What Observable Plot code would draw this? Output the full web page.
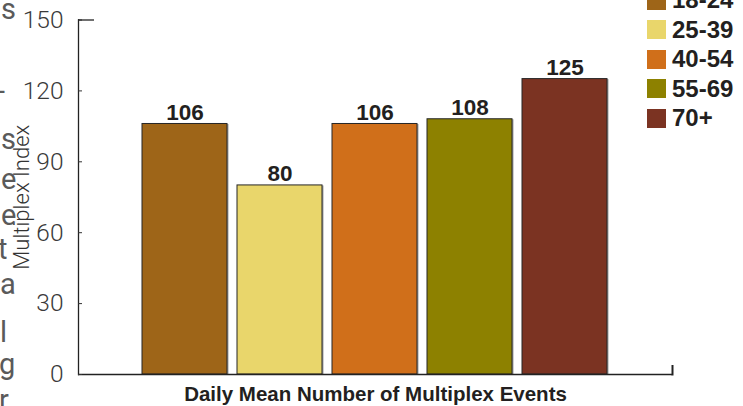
<!DOCTYPE html>
<html>
<head>
<meta charset="utf-8">
<script src="https://cdn.jsdelivr.net/npm/d3@7"></script>
<script src="https://cdn.jsdelivr.net/npm/@observablehq/plot@0.6"></script>
<style>
  html, body { margin: 0; padding: 0; background: #fff; }
  #wrap { position: relative; width: 743px; height: 406px; overflow: hidden; }
  #wrap svg { position: absolute; left: 0; top: 0; }
  .narrow { font-family: "Liberation Sans Narrow", "Arial Narrow", sans-serif; }
  #legend { position: absolute; left: 647px; top: -14.5px; }
  #legend .row { display: flex; align-items: center; height: 29.5px; }
  #legend .sw { width: 19px; height: 19px; flex: none; }
  #legend .lab { margin-left: 6px; font-size: 24px; font-weight: bold; color: #231f20; line-height: 1; }
  #side { position: absolute; left: 0; top: 0; width: 20px; height: 406px; }
  #side span { position: absolute; font-family: Roboto, "Liberation Sans", sans-serif; font-size: 29px; font-weight: 400; color: #5a5a5a; line-height: 0; }
</style>
</head>
<body>
<div id="wrap"></div>
<script>
// Multiplex index by age group
const ageGroups = ["18-24", "25-39", "40-54", "55-69", "70+"];
const indexValues = [106, 80, 106, 108, 125];
const groupColors = ["#9e6518", "#e9d66b", "#d06f1a", "#8d8100", "#7b3322"];
const yTicks = [0, 30, 60, 90, 120, 150];
const xTitle = "Daily Mean Number of Multiplex Events";
const yTitle = "Multiplex Index";
// tail letters of the neighbouring text column
const sideLetters = ["s", "-", "s", "e", "e", "t", "a", "l", "g", "r"];

const rows = ageGroups.map((group, i) => ({group, value: indexValues[i]}));
const narrowFont = "'Liberation Sans Narrow', 'Arial Narrow', sans-serif";
const lightFont = "Roboto, 'Liberation Sans', sans-serif";

const chart = Plot.plot({
  width: 743,
  height: 406,
  marginLeft: 78,
  marginRight: 71,
  marginTop: 19.5,
  marginBottom: 32,
  style: {background: "transparent", overflow: "visible"},
  x: {domain: ageGroups, paddingInner: 0.105, paddingOuter: 0.674, axis: null},
  y: {domain: [0, 150], axis: null},
  color: {domain: ageGroups, range: groupColors},
  marks: [
    // soft shadow behind each bar
    Plot.barY(rows, {x: "group", y: "value", fill: "#a0a0a0", dx: 1.5, dy: 0.5}),
    Plot.barY(rows, {x: "group", y: "value", fill: "group", stroke: "#262626", strokeWidth: 1}),
    Plot.text(rows, {
      x: "group", y: "value", text: d => String(d.value),
      lineAnchor: "bottom", dy: -4,
      fontSize: 22.5, fontWeight: "bold", fontFamily: narrowFont, fill: "#231f20"
    }),
    // axis lines
    Plot.frame({anchor: "left", stroke: "#222", strokeWidth: 1.3}),
    Plot.ruleY([0], {stroke: "#222", strokeWidth: 1.6}),
    Plot.frame({anchor: "right", stroke: "#222", strokeWidth: 2, insetTop: 346}),
    // inward ticks, the top one longer
    Plot.axisY({ticks: yTicks, tickSize: -4, tickFormat: () => "", label: null, stroke: "#333"}),
    Plot.axisY({ticks: [150], tickSize: -16, tickFormat: () => "", label: null, stroke: "#222", strokeWidth: 1.3}),
    Plot.axisY({
      ticks: yTicks, tickSize: 0, tickPadding: 15, label: null,
      fontSize: 24.5, fontWeight: 300, fontFamily: lightFont, fill: "#3a3a3a"
    }),
    // axis titles
    Plot.text([xTitle], {
      frameAnchor: "bottom", dy: 20, lineAnchor: "middle",
      fontSize: 20.5, fontWeight: "bold", fontFamily: narrowFont, fill: "#231f20"
    }),
    Plot.text([yTitle], {
      frameAnchor: "left", dx: -57, rotate: -90, textAnchor: "middle", lineAnchor: "middle",
      fontSize: 22, fontWeight: 300, fontFamily: lightFont, fill: "#333"
    })
  ]
});

const wrap = d3.select("#wrap");
wrap.node().appendChild(chart);

// legend, one swatch per age group
const legend = wrap.append("div").attr("id", "legend");
const item = legend.selectAll("div.row").data(ageGroups).join("div").attr("class", "row");
item.append("div").attr("class", "sw").style("background", (d, i) => groupColors[i]);
item.append("div").attr("class", "lab narrow").text(d => d);

// clipped letters at the left page edge
const sideLayout = [[1, 17], [-3, 99], [1, 147], [1, 187], [1, 223], [-2, 257], [0, 292], [0, 340], [-1, 372], [-1, 408]];
const side = wrap.append("div").attr("id", "side");
side.selectAll("span").data(sideLetters).join("span")
  .style("left", (d, i) => sideLayout[i][0] + "px")
  .style("top", (d, i) => (sideLayout[i][1] - 8) + "px")
  .text(d => d);
</script>
</body>
</html>
